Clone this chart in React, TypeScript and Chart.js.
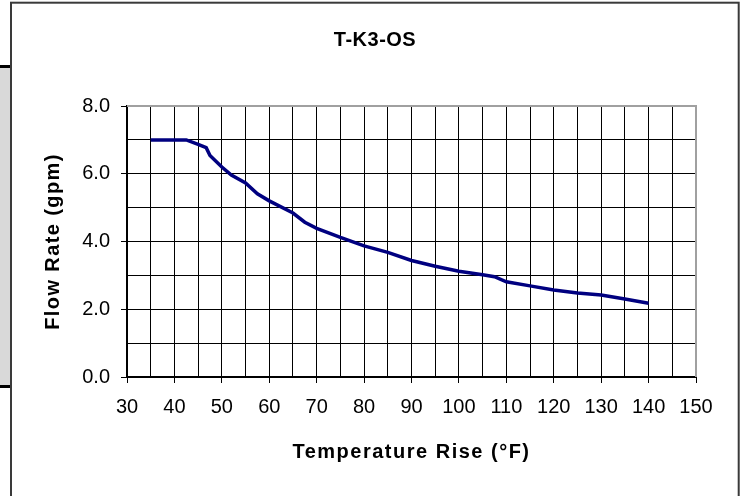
import React, { useEffect, useRef } from 'react';
import { Chart, registerables } from 'chart.js';

Chart.register(...registerables);

const chartTitle = 'T-K3-OS';
const xAxisTitle = 'Temperature Rise (°F)';
const yAxisTitle = 'Flow Rate (gpm)';

const temperatureRise = [35, 40, 42.5, 45, 46.7, 47.5, 50, 52, 55, 57.5, 60, 65, 67.5, 70, 75, 80, 85, 90, 95, 100, 105, 107.5, 110, 115, 120, 125, 130, 135, 140];
const flowRate = [7.0, 7.0, 7.0, 6.87, 6.77, 6.54, 6.2, 5.96, 5.73, 5.41, 5.2, 4.84, 4.57, 4.39, 4.12, 3.87, 3.68, 3.44, 3.27, 3.12, 3.02, 2.96, 2.81, 2.69, 2.57, 2.48, 2.42, 2.3, 2.18];

const xMin = 30;
const xMax = 150;
const xGridStep = 5;
const xLabelStep = 10;
const yMin = 0;
const yMax = 8;
const yGridStep = 1;
const yLabelStep = 2;

const FONT = '"Liberation Sans", Arial, sans-serif';

const decorPlugin = {
  id: 'decor',
  beforeDraw(chart: any) {
    const ctx = chart.ctx;
    ctx.save();
    ctx.fillStyle = '#ffffff';
    ctx.fillRect(0, 0, chart.width, chart.height);
    // left grey strip
    ctx.fillStyle = '#d9d9d9';
    ctx.fillRect(0, 66, 10, 321);
    ctx.fillStyle = '#000000';
    ctx.fillRect(0, 65, 10, 3);
    ctx.fillRect(0, 385, 10, 3);
    ctx.restore();
  },
  afterDraw(chart: any) {
    const ctx = chart.ctx;
    const a = chart.chartArea;
    ctx.save();
    // grey top/right plot border
    ctx.strokeStyle = '#a0a0a0';
    ctx.lineWidth = 2;
    ctx.beginPath();
    ctx.moveTo(a.left, a.top);
    ctx.lineTo(a.right, a.top);
    ctx.lineTo(a.right, a.bottom);
    ctx.stroke();
    // outer frame
    ctx.strokeStyle = '#3a3a3a';
    ctx.lineWidth = 2;
    ctx.strokeRect(11, 2.7, 727.7, 520);
    // titles
    ctx.fillStyle = '#000000';
    ctx.textAlign = 'center';
    ctx.textBaseline = 'middle';
    ctx.font = `bold 20px ${FONT}`;
    (ctx as any).letterSpacing = '0.5px';
    ctx.fillText(chartTitle, 375, 40);
    (ctx as any).letterSpacing = '1.5px';
    ctx.fillText(xAxisTitle, (a.left + a.right) / 2, 452);
    ctx.translate(53, (a.top + a.bottom) / 2);
    ctx.rotate(-Math.PI / 2);
    (ctx as any).letterSpacing = '1.4px';
    ctx.fillText(yAxisTitle, 0, 0);
    ctx.restore();
  },
};

export default function App() {
  const ref = useRef<HTMLCanvasElement | null>(null);

  useEffect(() => {
    if (!ref.current) return;
    const points = temperatureRise.map((x, i) => ({ x, y: flowRate[i] }));
    const chart = new Chart(ref.current, {
      type: 'line',
      data: {
        datasets: [
          {
            data: points,
            borderColor: '#000080',
            backgroundColor: '#000080',
            borderWidth: 3.5,
            pointRadius: 0,
            tension: 0,
            fill: false,
          },
        ],
      },
      options: {
        responsive: false,
        animation: false,
        devicePixelRatio: 1,
        layout: { padding: { left: 10, top: 106, right: 46, bottom: 20 } },
        plugins: {
          legend: { display: false },
          title: { display: false },
          tooltip: { enabled: false },
        },
        scales: {
          x: {
            type: 'linear',
            min: xMin,
            max: xMax,
            afterFit: (s: any) => {
              s.height = 99;
            },
            border: { color: '#000000', width: 2 },
            grid: {
              color: '#000000',
              lineWidth: 1,
              tickLength: 6,
              tickColor: (c: any) => (c.tick && c.tick.value % xLabelStep === 0 ? '#000000' : 'rgba(0,0,0,0)'),
            },
            ticks: {
              stepSize: xGridStep,
              autoSkip: false,
              maxRotation: 0,
              padding: 12,
              color: '#000000',
              font: { family: FONT, size: 20 },
              callback: (v: any) => (Number(v) % xLabelStep === 0 ? String(v) : ''),
            },
          },
          y: {
            type: 'linear',
            min: yMin,
            max: yMax,
            afterFit: (s: any) => {
              s.width = 117;
            },
            border: { color: '#000000', width: 2 },
            grid: {
              color: '#000000',
              lineWidth: 1,
              tickLength: 6,
              tickColor: (c: any) => (c.tick && c.tick.value % yLabelStep === 0 ? '#000000' : 'rgba(0,0,0,0)'),
            },
            ticks: {
              stepSize: yGridStep,
              autoSkip: false,
              padding: 11,
              color: '#000000',
              font: { family: FONT, size: 20 },
              callback: (v: any) => (Number(v) % yLabelStep === 0 ? Number(v).toFixed(1) : ''),
            },
          },
        },
      },
      plugins: [decorPlugin],
    } as any);
    return () => chart.destroy();
  }, []);

  return (
    <div style={{ position: 'fixed', left: 0, top: 0, width: 742, height: 496, background: '#fff' }}>
      <canvas ref={ref} width={742} height={496} style={{ display: 'block', width: 742, height: 496 }} />
    </div>
  );
}
